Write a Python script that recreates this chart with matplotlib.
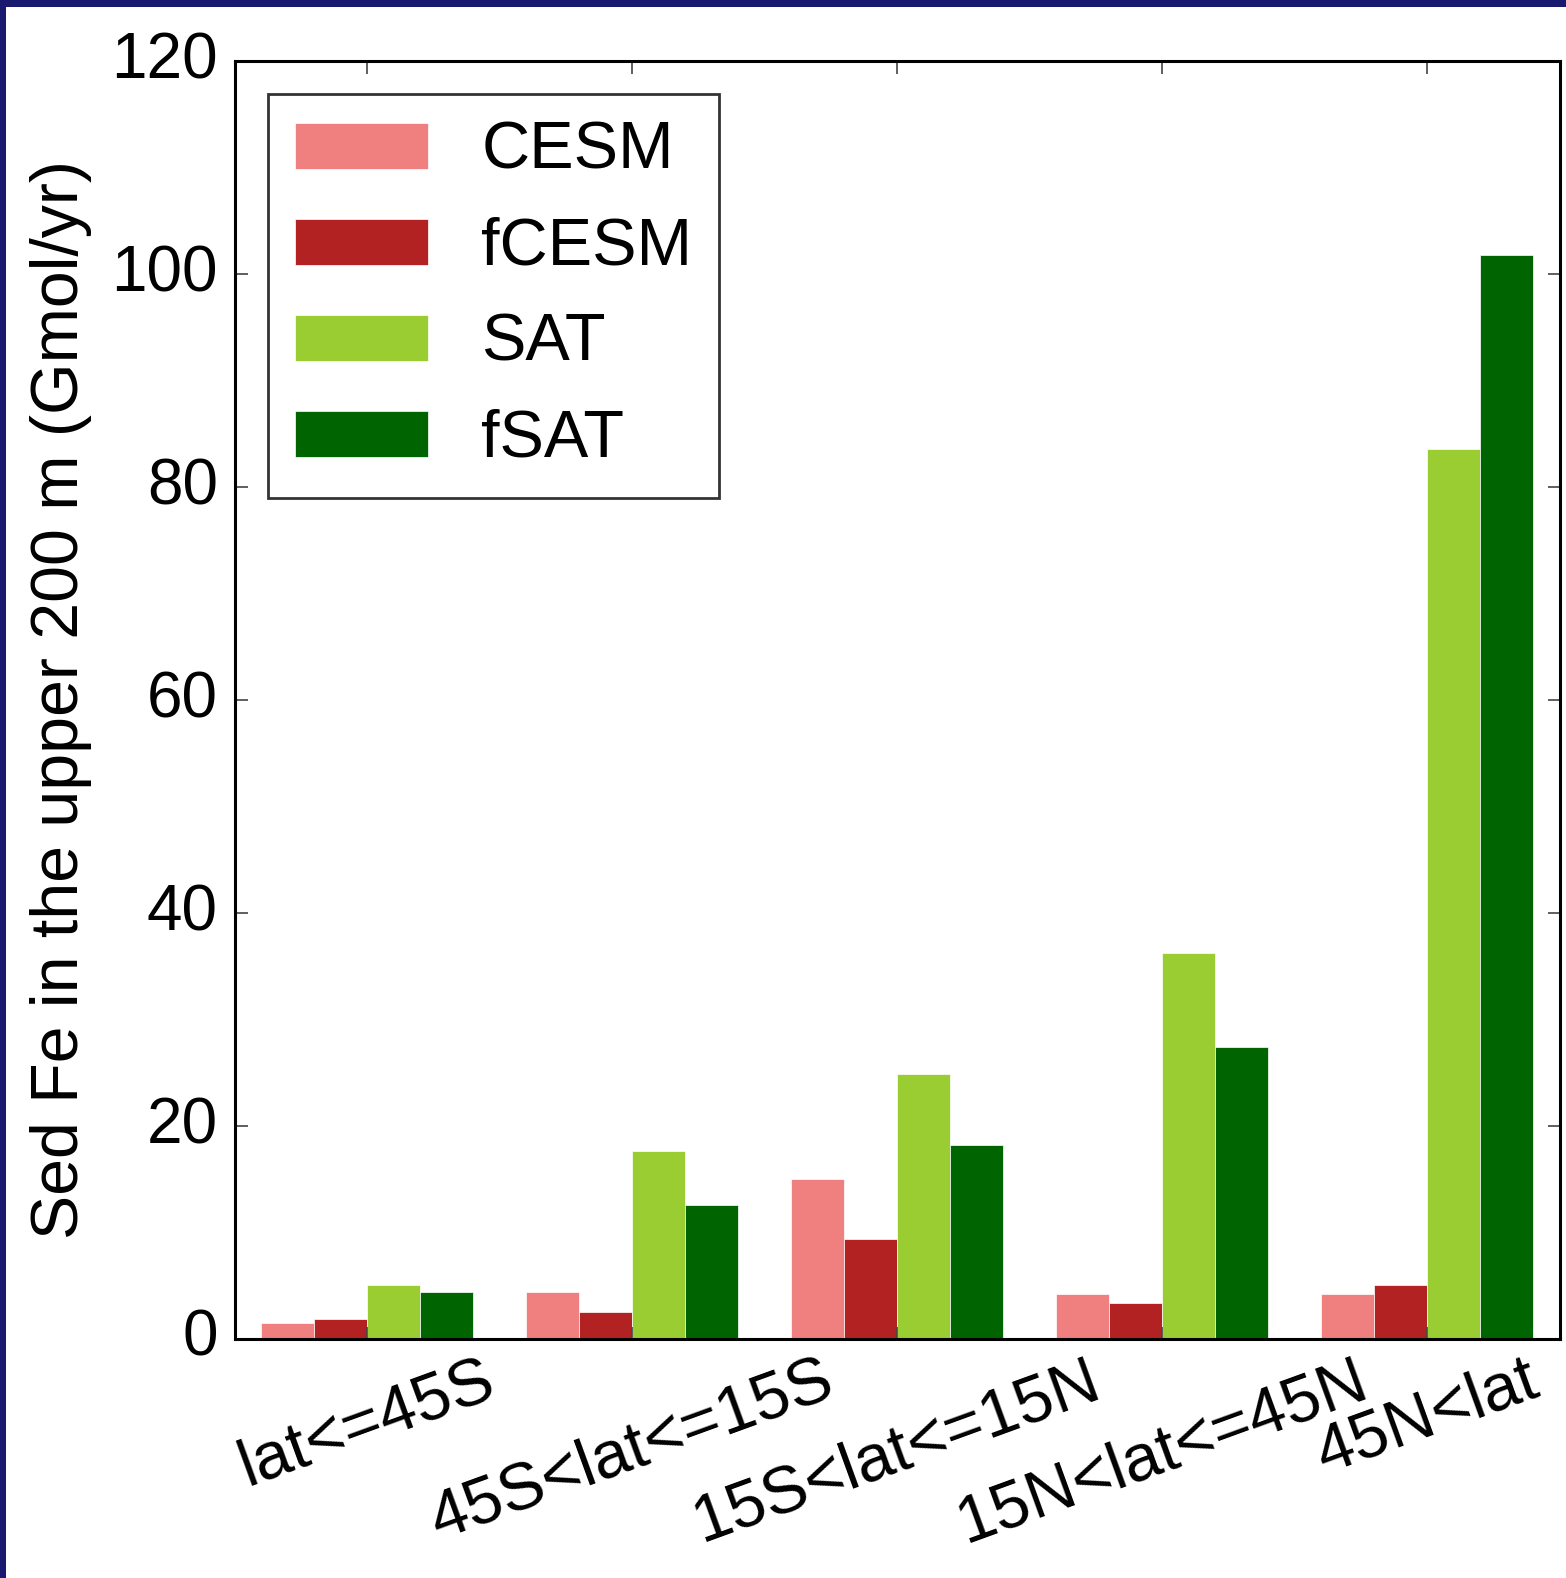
import matplotlib
matplotlib.use("Agg")
import matplotlib.pyplot as plt
import matplotlib.transforms as mtransforms
import numpy as np
from matplotlib.patches import Rectangle

regions = ["lat<=45S", "45S<lat<=15S", "15S<lat<=15N", "15N<lat<=45N", "45N<lat"]
series_names = ["CESM", "fCESM", "SAT", "fSAT"]
cesm = [1.5, 4.4, 15.0, 4.2, 4.2]
fcesm = [1.8, 2.5, 9.3, 3.3, 5.0]
sat = [5.0, 17.6, 24.8, 36.2, 83.6]
fsat = [4.4, 12.5, 18.2, 27.4, 101.8]
colors = ["#F08080", "#B22222", "#9ACD32", "#006400"]
yticks = [0, 20, 40, 60, 80, 100, 120]

plt.rcParams['font.family'] = ['Liberation Sans', 'DejaVu Sans']

W, H = 1566, 1578
fig = plt.figure(figsize=(W / 100, H / 100), dpi=100)
ax = fig.add_axes([234.5 / W, 1 - 1338.5 / H, (1560 - 234.5) / W, (1338.5 - 61) / H])

x = np.arange(len(regions))
width = 0.2
for k, (vals, name, c) in enumerate(zip([cesm, fcesm, sat, fsat], series_names, colors)):
    ax.bar(x - 0.4 + k * width, vals, width, align='edge', color=c, label=name,
           edgecolor='white', linewidth=0.5)

ax.set_xlim(-0.5, 4.5)
ax.set_ylim(0, 120)
ax.set_yticks(yticks)
ax.set_xticks(x)
ax.set_xticklabels(regions, rotation=20, ha='center', fontsize=48)
ax.tick_params(axis='y', labelsize=46, pad=12)
ax.tick_params(axis='x', pad=8)
ax.tick_params(direction='in', top=True, right=True, length=9, width=1.2, color='#444444')
for s in ax.spines.values():
    s.set_linewidth(2.2)
ax.set_ylabel("Sed Fe in the upper 200 m (Gmol/yr)", fontsize=47.7, labelpad=14)

shift = mtransforms.ScaledTranslation(0, 6 / 100, fig.dpi_scale_trans)
for lab in ax.get_yticklabels():
    lab.set_transform(lab.get_transform() + shift)

leg = ax.legend(loc='upper left', fontsize=48, fancybox=False, frameon=True,
                handlelength=2.0, handleheight=0.68, handletextpad=0.8,
                labelspacing=0.51, borderaxespad=0.5, borderpad=0.4)
leg.get_frame().set_edgecolor('black')
leg.get_frame().set_linewidth(2.0)

# navy frame strip on top and left
fig.patches.append(Rectangle((0, 1 - 7 / H), 1, 7 / H, transform=fig.transFigure,
                             facecolor='#191970', edgecolor='none', zorder=10))
fig.patches.append(Rectangle((0, 0), 6 / W, 1, transform=fig.transFigure,
                             facecolor='#191970', edgecolor='none', zorder=10))

fig.savefig("out.png", dpi=100)
